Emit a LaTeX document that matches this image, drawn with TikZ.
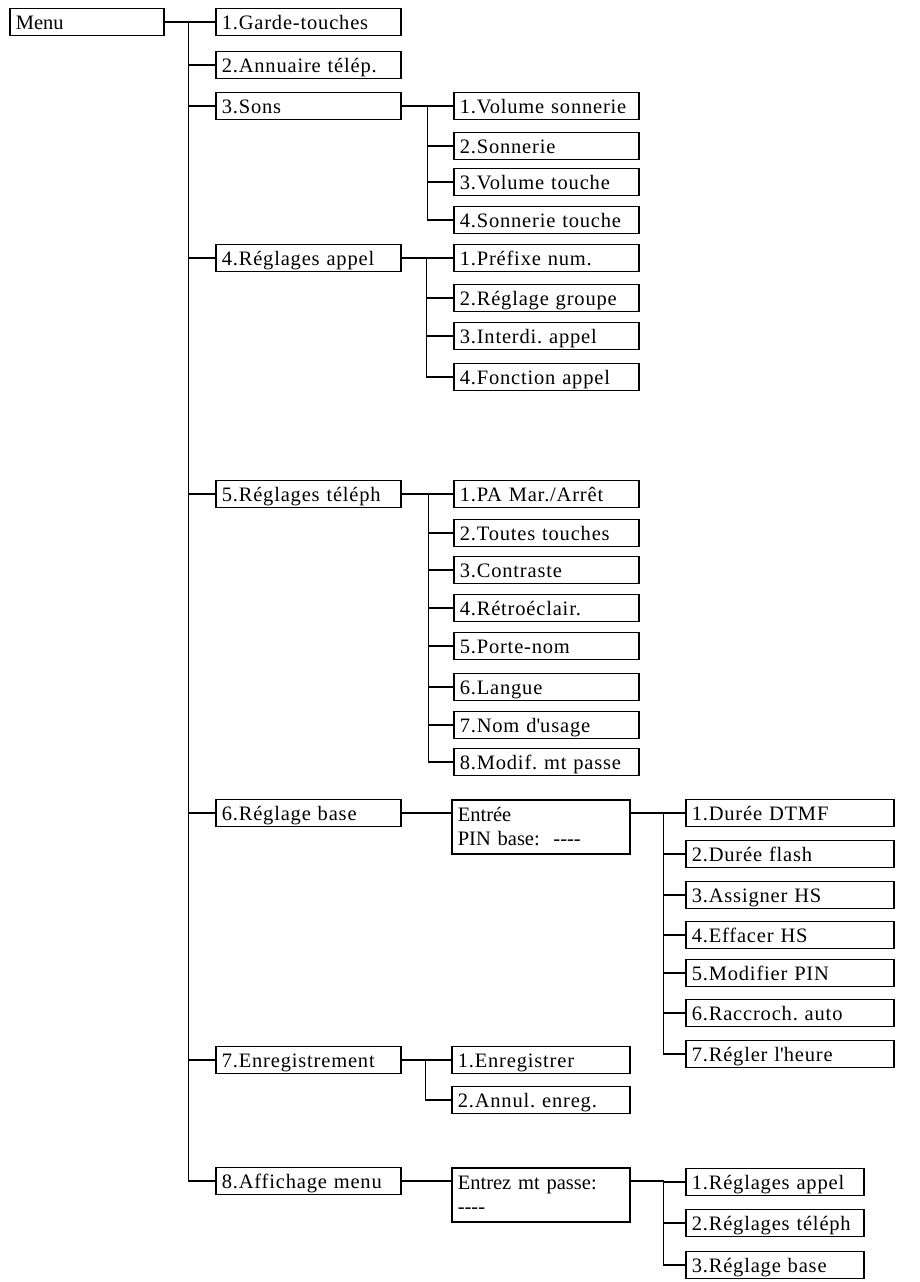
\documentclass[tikz,border=0pt]{standalone}
\usepackage{fontspec}
\setmainfont{Liberation Serif}
\newfontfamily\itemfont[LetterSpace=4]{Liberation Serif}
\frenchspacing
\tikzset{
  box/.style={draw, line width=1.6pt, anchor=west, inner xsep=6pt, inner ysep=0pt,
    minimum height=27pt, text width=#1, align=left, text height=16pt, text depth=2pt,
    font=\itemfont\fontsize{20.5}{25}\selectfont},
  twoline/.style={draw, line width=1.6pt, anchor=north west, inner xsep=6pt,
    minimum height=54pt, text width=166pt, align=left,
    font=\fontsize{20.5}{24}\selectfont},
  link/.style={line width=1.6pt}
}
\begin{document}
\begin{tikzpicture}[x=1pt, y=-1pt]
\useasboundingbox (0,0) rectangle (920,1282);
\node[box=142pt, font=\fontsize{20.5}{25}\selectfont] (menu) at (9,22) {Menu};
% first level
\node[box=173pt] (garde) at (215,22) {1.Garde-touches};
\node[box=173pt] (annu) at (215,65) {2.Annuaire télép.};
\node[box=173pt] (sons) at (215,106) {3.Sons};
\node[box=173pt] (appel) at (215,258) {4.Réglages appel};
\node[box=173pt] (teleph) at (215,494) {5.Réglages téléph};
\node[box=173pt] (base) at (215,813) {6.Réglage base};
\node[box=173pt] (enreg) at (215,1060) {7.Enregistrement};
\node[box=173pt] (affich) at (215,1181) {8.Affichage menu};
% sons
\node[box=173pt] (sons1) at (453,106) {1.Volume sonnerie};
\node[box=173pt] (sons2) at (453,146) {2.Sonnerie};
\node[box=173pt] (sons3) at (453,182) {3.Volume touche};
\node[box=173pt] (sons4) at (453,220) {4.Sonnerie touche};
% reglages appel
\node[box=173pt] (appel1) at (453,258) {1.Préfixe num.};
\node[box=173pt] (appel2) at (453,298) {2.Réglage groupe};
\node[box=173pt] (appel3) at (453,336) {3.Interdi. appel};
\node[box=173pt] (appel4) at (453,377) {4.Fonction appel};
% reglages teleph
\node[box=173pt] (teleph1) at (453,494) {1.PA Mar./Arrêt};
\node[box=173pt] (teleph2) at (453,533) {2.Toutes touches};
\node[box=173pt] (teleph3) at (453,570) {3.Contraste};
\node[box=173pt] (teleph4) at (453,608) {4.Rétroéclair.};
\node[box=173pt] (teleph5) at (453,646) {5.Porte-nom};
\node[box=173pt] (teleph6) at (453,687) {6.Langue};
\node[box=173pt] (teleph7) at (453,725) {7.Nom d\textquotesingle usage};
\node[box=173pt] (teleph8) at (453,762) {8.Modif. mt passe};
% reglage base
\node[twoline] (pin) at (451,799) {Entrée\\PIN base:\ \ -{}-{}-{}-};
\node[box=196pt] (base1) at (685,813) {1.Durée DTMF};
\node[box=196pt] (base2) at (685,854) {2.Durée flash};
\node[box=196pt] (base3) at (685,895) {3.Assigner HS};
\node[box=196pt] (base4) at (685,935) {4.Effacer HS};
\node[box=196pt] (base5) at (685,973) {5.Modifier PIN};
\node[box=196pt] (base6) at (685,1013) {6.Raccroch. auto};
\node[box=196pt] (base7) at (685,1054) {7.Régler l\textquotesingle heure};
% enregistrement
\node[box=166pt] (enreg1) at (451,1060) {1.Enregistrer};
\node[box=166pt] (enreg2) at (451,1100) {2.Annul. enreg.};
% affichage menu
\node[twoline] (pass) at (451,1167) {Entrez mt passe:\\-{}-{}-{}-};
\node[box=166pt] (affich1) at (685,1182) {1.Réglages appel};
\node[box=166pt] (affich2) at (685,1223) {2.Réglages téléph};
\node[box=166pt] (affich3) at (685,1265) {3.Réglage base};

\draw[link] (menu.east) -- ++(24,0) coordinate (tmenu);
\foreach \n in {garde,annu,sons,appel,teleph,base,enreg,affich}
  \draw[link] (tmenu) |- (\n.west);
\draw[link] (sons.east) -- ++(26,0) coordinate (tsons);
\foreach \n in {1,...,4}
  \draw[link] (tsons) |- (sons\n.west);
\draw[link] (appel.east) -- ++(25,0) coordinate (tappel);
\foreach \n in {1,...,4}
  \draw[link] (tappel) |- (appel\n.west);
\draw[link] (teleph.east) -- ++(27,0) coordinate (tteleph);
\foreach \n in {1,...,8}
  \draw[link] (tteleph) |- (teleph\n.west);
\draw[link] (base.east) -- (base.east -| pin.west);
\draw[link] (base.east -| pin.east) -- ++(33,0) coordinate (tpin);
\foreach \n in {1,...,7}
  \draw[link] (tpin) |- (base\n.west);
\draw[link] (enreg.east) -- ++(24,0) coordinate (tenreg);
\foreach \n in {1,2}
  \draw[link] (tenreg) |- (enreg\n.west);
\draw[link] (affich.east) -- (affich.east -| pass.west);
\draw[link] (affich.east -| pass.east) -- ++(33,0) coordinate (tpass);
\foreach \n in {1,2,3}
  \draw[link] (tpass) |- (affich\n.west);
\end{tikzpicture}
\end{document}
